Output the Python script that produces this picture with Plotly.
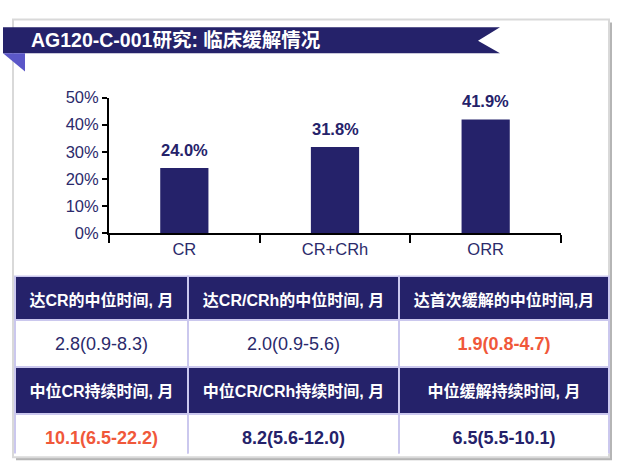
import plotly.graph_objects as go

W, H = 626, 474

categories = ["CR", "CR+CRh", "ORR"]
rates = [24.0, 31.8, 41.9]
y_ticks = [0, 10, 20, 30, 40, 50]

title_text = "AG120-C-001研究: 临床缓解情况"

headers_row1 = ["达CR的中位时间, 月", "达CR/CRh的中位时间, 月", "达首次缓解的中位时间,月"]
values_row1 = ["2.8(0.9-8.3)", "2.0(0.9-5.6)", "1.9(0.8-4.7)"]
headers_row2 = ["中位CR持续时间, 月", "中位CR/CRh持续时间, 月", "中位缓解持续时间, 月"]
values_row2 = ["10.1(6.5-22.2)", "8.2(5.6-12.0)", "6.5(5.5-10.1)"]

NAVY = "#25226a"
TXT = "#2b2a6b"
ORANGE = "#f0583a"
PURPLE = "#5b57c8"
GRID = "#cbc8ee"
FONT = "Liberation Sans, Arial, Noto Sans CJK SC"

row1_colors = [TXT, TXT, ORANGE]
row2_colors = [ORANGE, NAVY, NAVY]
row1_bold = [False, False, True]


def px(x):
    return x / W


def py(y):
    return 1 - y / H


def cell(txt, bold, size):
    # small spacer line above so the text sits centred in the cell
    inner = f"<b>{txt}</b>" if bold else txt
    return f" <br><span style='font-size:{size}px'>{inner}</span>"


fig = go.Figure()

fig.add_trace(go.Bar(
    x=categories, y=rates, marker=dict(color=NAVY, line=dict(width=0)),
    width=0.32, hoverinfo="skip",
))

bar_labels = [dict(x=c, y=v, xref="x", yref="y", text=f"<b>{v:.1f}%</b>",
                   showarrow=False, yanchor="bottom", xanchor="center", yshift=7,
                   font=dict(family=FONT, size=16.5, color=NAVY))
              for c, v in zip(categories, rates)]

cell_vals, cell_fill, cell_font = [], [], []
for i in range(3):
    cell_vals.append([cell(values_row1[i], row1_bold[i], 18), cell(headers_row2[i], True, 16),
                      cell(values_row2[i], True, 18)])
    cell_fill.append(["white", NAVY, "white"])
    cell_font.append([row1_colors[i], "white", row2_colors[i]])

fig.add_trace(go.Table(
    domain=dict(x=[px(15), px(609)], y=[py(463), py(278)]),
    columnwidth=[173, 211, 210],
    header=dict(values=[cell(h, True, 16) for h in headers_row1], fill_color=NAVY,
                line=dict(color=GRID, width=2), align="center", height=44,
                font=dict(family=FONT, size=10, color="white")),
    cells=dict(values=cell_vals, fill_color=cell_fill,
               line=dict(color=GRID, width=2), align="center", height=47,
               font=dict(family=FONT, size=10, color=cell_font)),
))

shapes = [
    # frame shadow
    dict(type="rect", xref="paper", yref="paper", x0=px(16), x1=px(612), y0=py(469), y1=py(14),
         fillcolor="#b5b5b5", line=dict(width=0), layer="below"),
    dict(type="rect", xref="paper", yref="paper", x0=px(13), x1=px(609), y0=py(466), y1=py(11),
         fillcolor="white", line=dict(color="#d9d9d9", width=2), layer="below"),
    # banner
    dict(type="path", xref="paper", yref="paper",
         path=f"M {px(3)},{py(19)} L {px(500)},{py(19)} L {px(478)},{py(33)} L {px(500)},{py(46)} L {px(3)},{py(46)} Z",
         fillcolor=NAVY, line=dict(width=0), layer="above"),
    dict(type="path", xref="paper", yref="paper",
         path=f"M {px(3)},{py(46)} L {px(25)},{py(46)} L {px(25)},{py(65)} Z",
         fillcolor=PURPLE, line=dict(width=0), layer="above"),
]

fig.update_layout(
    width=W, height=H, autosize=False,
    margin=dict(l=0, r=0, t=0, b=0),
    paper_bgcolor="white", plot_bgcolor="rgba(0,0,0,0)",
    showlegend=False,
    shapes=shapes,
    annotations=[dict(text=f"<b>{title_text}</b>", xref="paper", yref="paper",
                      x=px(29), y=py(32.5), xanchor="left", yanchor="middle",
                      showarrow=False, font=dict(family=FONT, size=19.5, color="white"))]
                + bar_labels,
    xaxis=dict(domain=[px(109), px(561)], showline=True, linecolor="black", linewidth=2,
               ticks="outside", tickson="boundaries", ticklen=8, tickwidth=2, tickcolor="black",
               tickfont=dict(family=FONT, size=16.5, color=TXT), showgrid=False, zeroline=False,
               fixedrange=True),
    yaxis=dict(domain=[py(233), py(92)], range=[0, 50], tickvals=y_ticks,
               ticktext=[f"{t}%" for t in y_ticks],
               showline=True, linecolor="black", linewidth=2,
               ticks="outside", ticklen=5, tickwidth=2, tickcolor="black",
               tickfont=dict(family=FONT, size=16.5, color=TXT), showgrid=False, zeroline=False,
               fixedrange=True),
)

fig.write_html("out.html", config={"displayModeBar": False},
               post_script="document.body.style.margin='0px';")
